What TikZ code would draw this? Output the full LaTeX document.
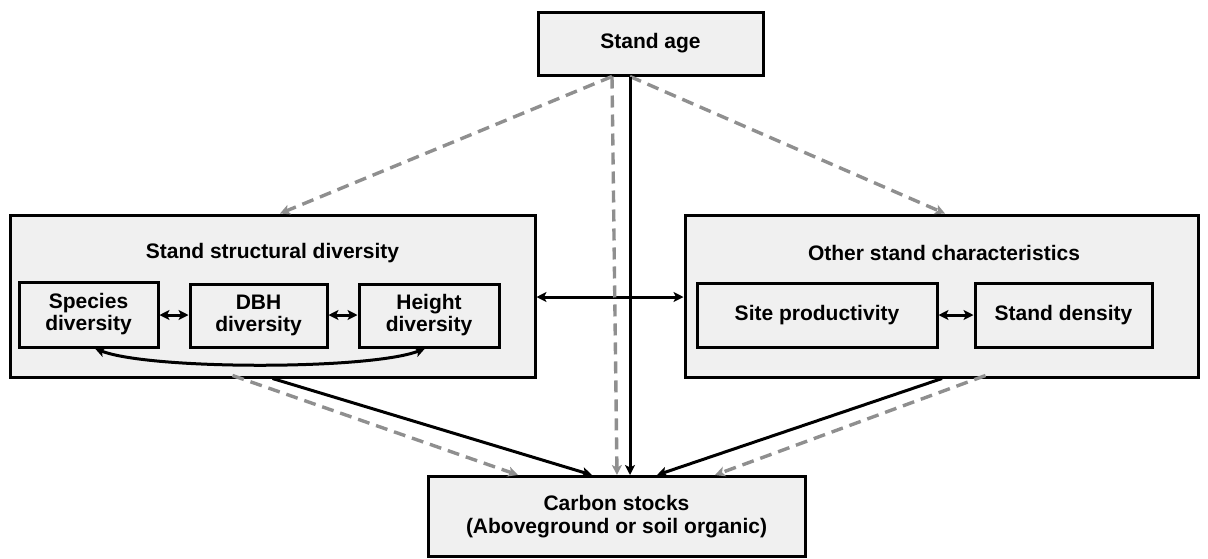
\documentclass[tikz,border=0pt]{standalone}
\usepackage{fontspec}
\setmainfont{Liberation Sans}
\usetikzlibrary{arrows.meta}
\definecolor{boxfill}{HTML}{F0F0F0}
\definecolor{dgray}{HTML}{8F8F8F}
\tikzset{
  tip/.tip={Stealth[length=10pt,width=10pt,inset=2.5pt]},
  box/.style={draw=black, line width=3pt, fill=boxfill, inner sep=0pt, align=center, font=\fontsize{21}{24}\selectfont\bfseries},
  big/.style={draw=black, line width=3pt, fill=boxfill, inner sep=0pt},
  ttl/.style={font=\fontsize{21}{24}\selectfont\bfseries},
  solidarr/.style={draw=black, line width=3pt, -tip},
  dasharr/.style={draw=dgray, line width=3.4pt, dash pattern=on 12pt off 7pt, -tip},
  dbl/.style={draw=black, line width=3pt, tip-tip},
}
\begin{document}
\begin{tikzpicture}[x=1pt,y=-1pt]
\useasboundingbox (0,0) rectangle (1208,558);
% boxes
\node[box, minimum width=225pt, minimum height=63pt] (sa) at (650.5,43.5) {Stand age};
\node[big, minimum width=525pt, minimum height=162pt] (lb) at (272.5,296) {};
\node[ttl] (lt) at (272.5,253) {Stand structural diversity};
\node[box, minimum width=139pt, minimum height=65pt] (sp) at (88.5,314.5) {Species\\[-2pt]diversity};
\node[box, minimum width=137pt, minimum height=63pt] (dbh) at (258.5,315.5) {DBH\\[-2pt]diversity};
\node[box, minimum width=140pt, minimum height=63pt] (ht) at (429,315.5) {Height\\[-2pt]diversity};
\node[big, minimum width=513pt, minimum height=162pt] (rb) at (941.5,296) {};
\node[ttl] (rt) at (944,253) {Other stand characteristics};
\node[box, minimum width=240pt, minimum height=64pt] (site) at (817,315) {Site productivity};
\node[box, minimum width=177pt, minimum height=64pt] (dens) at (1063.5,315) {Stand density};
\node[box, minimum width=377pt, minimum height=80pt] (car) at (616.5,516.5) {Carbon stocks\\[-1pt](Aboveground or soil organic)};
% inner double arrows
\draw[dbl] (sp.east |- 0,315) -- (dbh.west |- 0,315);
\draw[dbl] (dbh.east |- 0,315) -- (ht.west |- 0,315);
\draw[dbl] (site.east) -- (dens.west);
\draw[dbl] ([xshift=6.5pt]sp.south) .. controls (150,370) and (370,370) .. ([xshift=-4pt]ht.south);
\draw[dbl] (lb.east |- 0,297) -- (rb.west |- 0,297);
% from stand age
\draw[dasharr] ([xshift=-38.5pt]sa.south) -- ([xshift=7.5pt]lb.north);
\draw[dasharr] ([xshift=-20.5pt]sa.south) -- ([xshift=3.5pt]rb.north);
\draw[dasharr] ([xshift=-38.5pt]sa.south) -- ([xshift=0.5pt]car.north);
\draw[solidarr] ([xshift=-20.5pt]sa.south) -- ([xshift=13.5pt]car.north);
% from left box
\draw[dasharr] ([xshift=-40pt,yshift=3pt]lb.south) -- ([xshift=-98.5pt]car.north);
\draw[solidarr] ([xshift=0pt]lb.south) -- ([xshift=-24.5pt]car.north);
% from right box
\draw[solidarr] ([xshift=0.5pt]rb.south) -- ([xshift=40.5pt]car.north);
\draw[dasharr] ([xshift=44pt,yshift=3pt]rb.south) -- ([xshift=98.5pt]car.north);
\end{tikzpicture}
\end{document}
